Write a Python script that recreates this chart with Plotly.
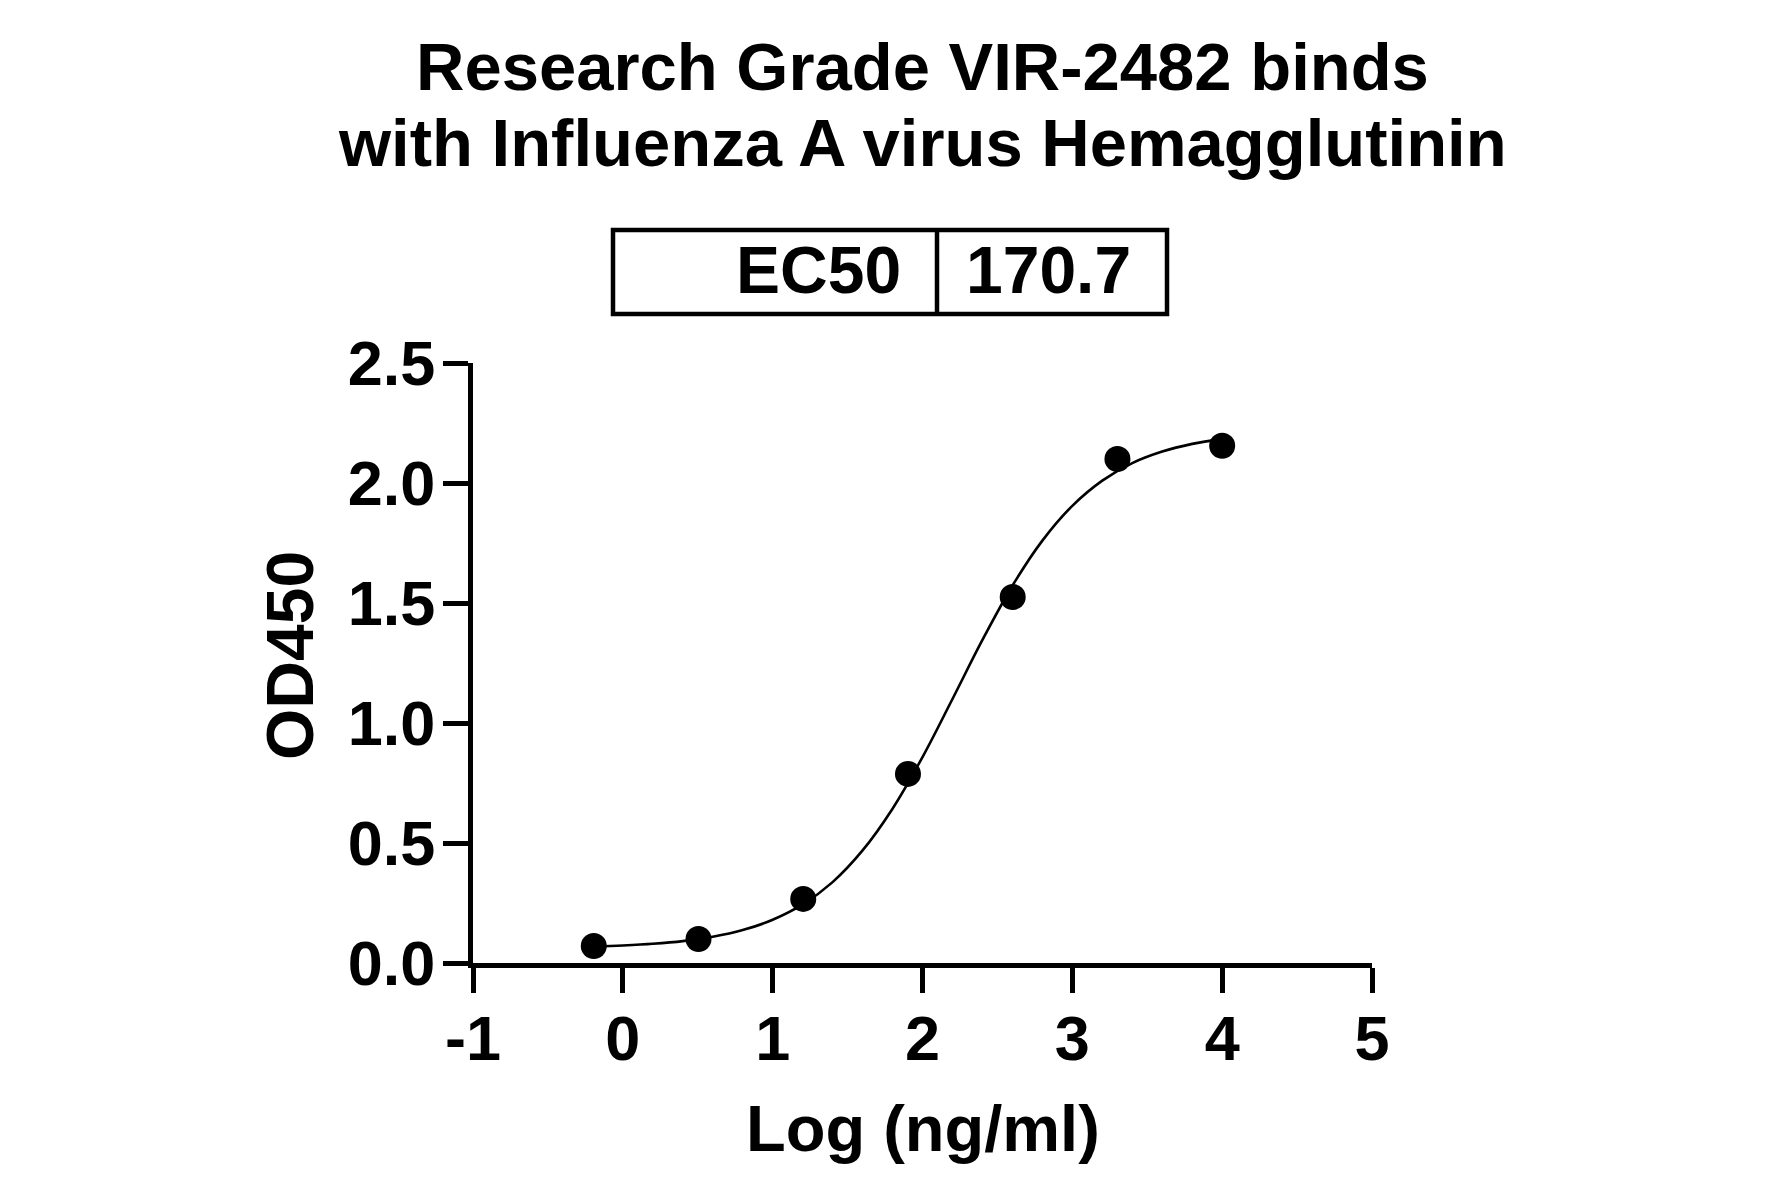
import plotly.graph_objects as go

# Data
log_conc = [-0.194, 0.505, 1.204, 1.903, 2.602, 3.301, 4.0]
od450 = [0.071, 0.100, 0.267, 0.788, 1.525, 2.100, 2.155]

curve_x = [-0.2, 0.0, 0.2, 0.4, 0.6, 0.8, 1.0, 1.2, 1.4, 1.6, 1.8, 2.0, 2.2,
           2.4, 2.6, 2.8, 3.0, 3.2, 3.4, 3.6, 3.8, 4.0]
curve_y = [0.068, 0.073, 0.080, 0.091, 0.109, 0.137, 0.180, 0.244, 0.337,
           0.469, 0.643, 0.858, 1.100, 1.346, 1.572, 1.760, 1.905, 2.010,
           2.083, 2.131, 2.163, 2.184]

x_tickvals = [-1, 0, 1, 2, 3, 4, 5]
x_ticktext = ["-1", "0", "1", "2", "3", "4", "5"]
y_tickvals = [0, 0.5, 1.0, 1.5, 2.0, 2.5]
y_ticktext = ["0.0", "0.5", "1.0", "1.5", "2.0", "2.5"]

title_lines = ["Research Grade VIR-2482 binds", "with Influenza A virus Hemagglutinin"]
x_title = "Log (ng/ml)"
y_title = "OD450"
ec50_label = "EC50"
ec50_value = "170.7"

FONT = "Liberation Sans, Arial, Helvetica, sans-serif"

W, H = 1775, 1197
L, R, T, B = 473, 1775 - 1372, 363, 1197 - 963
PW, PH = W - L - R, H - T - B


def px(xp):
    return (xp - L) / PW


def py(yp):
    return (H - B - yp) / PH


fig = go.Figure()
fig.add_trace(go.Scatter(
    x=curve_x, y=curve_y, mode="lines", line=dict(color="black", width=2.6, shape="spline"),
    hoverinfo="skip", showlegend=False))
fig.add_trace(go.Scatter(
    x=log_conc, y=od450, mode="markers", marker=dict(color="black", size=26),
    showlegend=False, cliponaxis=False))

axis_common = dict(
    showline=True, linecolor="black", linewidth=5, ticks="outside", ticklen=25,
    tickwidth=5, tickcolor="black", showgrid=False, zeroline=False,
    tickfont=dict(family=FONT, size=63, color="black", weight="bold"),
)

fig.update_xaxes(range=[-1, 5], tickvals=x_tickvals, ticktext=x_ticktext,
                 ticklabelstandoff=-9, **axis_common)
fig.update_yaxes(range=[0, 2.5], tickvals=y_tickvals, ticktext=y_ticktext,
                 ticklabelstandoff=-5, **axis_common)

annotations = [
    dict(text=title_lines[0], x=px(922), y=py(67), size=67),
    dict(text=title_lines[1], x=px(922), y=py(143), size=67),
    dict(text=x_title, x=px(923), y=py(1128), size=65),
]
ann = []
for a in annotations:
    ann.append(dict(text=a["text"], xref="paper", yref="paper", x=a["x"], y=a["y"],
                    xanchor="center", yanchor="middle", showarrow=False,
                    font=dict(family=FONT, size=a["size"], color="black", weight="bold")))
ann.append(dict(text=y_title, xref="paper", yref="paper", x=px(290), y=py(656),
                xanchor="center", yanchor="middle", showarrow=False, textangle=-90,
                font=dict(family=FONT, size=66, color="black", weight="bold")))
ann.append(dict(text=ec50_label, xref="paper", yref="paper", x=px(903), y=py(270),
                xanchor="right", yanchor="middle", showarrow=False,
                font=dict(family=FONT, size=66, color="black", weight="bold")))
ann.append(dict(text=ec50_value, xref="paper", yref="paper", x=px(964), y=py(270),
                xanchor="left", yanchor="middle", showarrow=False,
                font=dict(family=FONT, size=66, color="black", weight="bold")))

shapes = [
    dict(type="rect", xref="paper", yref="paper", x0=px(613), x1=px(1167),
         y0=py(314), y1=py(230), line=dict(color="black", width=4.5)),
    dict(type="line", xref="paper", yref="paper", x0=px(937), x1=px(937),
         y0=py(314), y1=py(230), line=dict(color="black", width=4.5)),
]

fig.update_layout(
    width=W, height=H, margin=dict(l=L, r=R, t=T, b=B),
    paper_bgcolor="white", plot_bgcolor="white",
    annotations=ann, shapes=shapes, showlegend=False,
    font=dict(family=FONT, color="black"),
)

fig.write_html("out.html", config={"displayModeBar": False},
               post_script="document.body.style.margin='0';document.body.style.overflow='hidden';")
